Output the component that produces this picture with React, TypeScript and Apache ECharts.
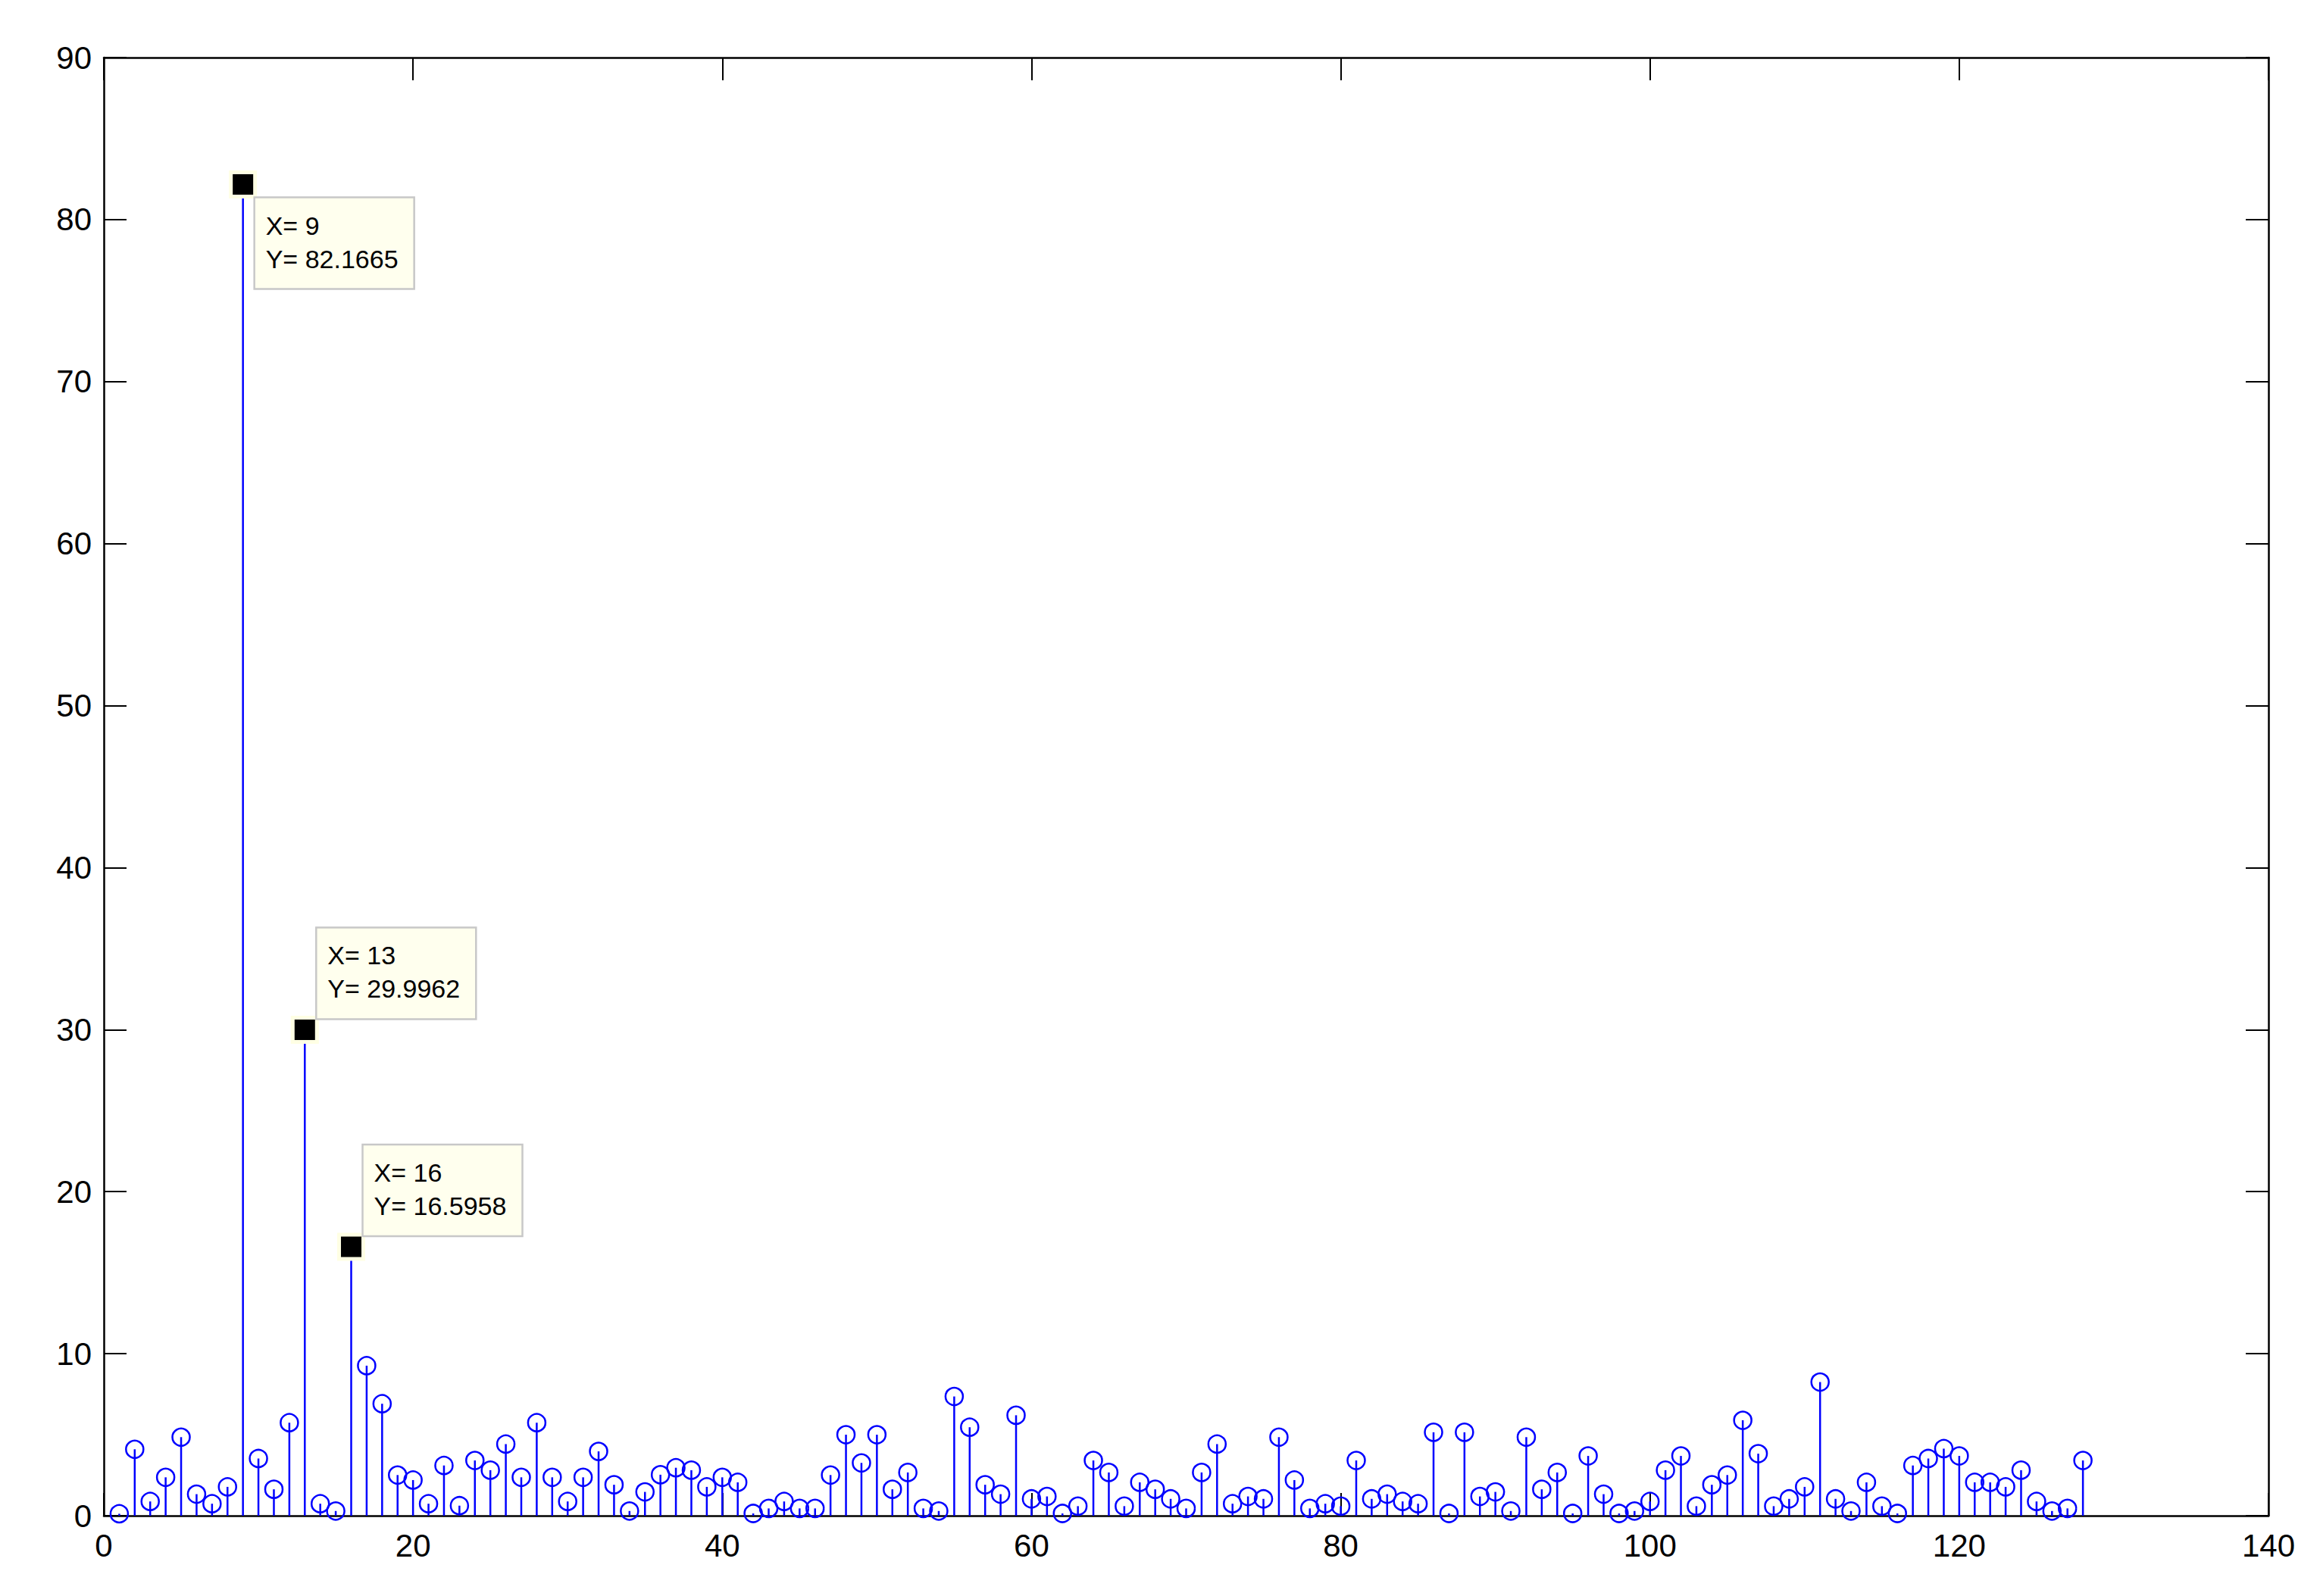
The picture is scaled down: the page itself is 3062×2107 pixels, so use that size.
import React, { useEffect, useRef } from "react";
import * as echarts from "echarts";

// Stem plot values for samples 1..128
const magnitudes: number[] = [
  0.12, 4.1, 0.88, 2.37, 4.85, 1.33, 0.74, 1.78, 82.1665, 3.53,
  1.63, 5.74, 29.9962, 0.74, 0.29, 16.5958, 9.26, 6.91, 2.51, 2.2,
  0.74, 3.1, 0.62, 3.41, 2.81, 4.42, 2.37, 5.74, 2.37, 0.88,
  2.37, 3.97, 1.91, 0.29, 1.47, 2.53, 2.96, 2.81, 1.78, 2.37,
  2.06, 0.14, 0.45, 0.88, 0.45, 0.45, 2.51, 5.0, 3.26, 5.0,
  1.63, 2.67, 0.45, 0.29, 7.36, 5.46, 1.91, 1.33, 6.2, 1.04,
  1.19, 0.14, 0.59, 3.41, 2.67, 0.59, 2.06, 1.63, 1.04, 0.45,
  2.67, 4.42, 0.74, 1.19, 1.04, 4.85, 2.2, 0.45, 0.74, 0.59,
  3.41, 1.04, 1.33, 0.88, 0.74, 5.15, 0.14, 5.15, 1.19, 1.47,
  0.29, 4.85, 1.63, 2.67, 0.14, 3.69, 1.33, 0.14, 0.29, 0.88,
  2.81, 3.69, 0.59, 1.91, 2.51, 5.89, 3.83, 0.59, 1.04, 1.78,
  8.25, 1.04, 0.29, 2.06, 0.59, 0.14, 3.1, 3.53, 4.14, 3.69,
  2.06, 2.06, 1.78, 2.81, 0.88, 0.29, 0.45, 3.41,
];

// Data tips (sample numbers)
const tipSamples: number[] = [9, 13, 16];

// Axis ranges
const xMin = 0;
const xMax = 140;
const xStep = 20;
const yMin = 0;
const yMax = 90;
const yStep = 10;

const STEM_BLUE = "#0000FF";
const LABEL_FONT = '"Liberation Sans Narrow", "Liberation Sans", Arial, sans-serif';
const TIP_FONT = '"Liberation Sans", Arial, sans-serif';

export default function App() {
  const ref = useRef<HTMLDivElement>(null);

  useEffect(() => {
    if (!ref.current) return;
    const chart = echarts.init(ref.current, null, { renderer: "svg" });

    const points = magnitudes.map((v, i) => [i + 1, v]);
    const tipPoints = tipSamples.map((n) => [n, magnitudes[n - 1]]);
    const tipBelow = [true, false, false];

    const axisLine = { show: true, onZero: false, lineStyle: { color: "#000", width: 2.5 } };
    const axisTick = { show: true, inside: true, length: 30, lineStyle: { color: "#000", width: 2 } };
    const labelStyle = { color: "#000", fontSize: 42, fontFamily: LABEL_FONT };

    chart.setOption({
      animation: false,
      backgroundColor: "#ffffff",
      grid: { left: 137, right: 68, top: 76, bottom: 106, containLabel: false },
      xAxis: [
        {
          type: "value", min: xMin, max: xMax, interval: xStep, position: "bottom",
          axisLine, axisTick, splitLine: { show: false },
          axisLabel: { show: true, margin: 18, ...labelStyle },
        },
        {
          type: "value", min: xMin, max: xMax, interval: xStep, position: "top",
          axisLine, axisTick, splitLine: { show: false }, axisLabel: { show: false },
        },
      ],
      yAxis: [
        {
          type: "value", min: yMin, max: yMax, interval: yStep, position: "left",
          axisLine, axisTick, splitLine: { show: false },
          axisLabel: { show: true, margin: 16, ...labelStyle },
        },
        {
          type: "value", min: yMin, max: yMax, interval: yStep, position: "right",
          axisLine, axisTick, splitLine: { show: false }, axisLabel: { show: false },
        },
      ],
      series: [
        {
          type: "custom",
          xAxisIndex: 0,
          yAxisIndex: 0,
          z: 3,
          data: points,
          renderItem: (_params: any, api: any) => {
            const x = api.value(0);
            const y = api.value(1);
            const p0 = api.coord([x, 0]);
            const p1 = api.coord([x, y]);
            return {
              type: "line",
              shape: { x1: p0[0], y1: p0[1], x2: p1[0], y2: p1[1] },
              style: { stroke: STEM_BLUE, lineWidth: 2.5 },
            };
          },
        },
        {
          type: "scatter",
          xAxisIndex: 0,
          yAxisIndex: 0,
          z: 4,
          clip: false,
          data: points,
          symbol: "circle",
          symbolSize: 23,
          itemStyle: { color: "rgba(0,0,0,0)", borderColor: STEM_BLUE, borderWidth: 2.5, opacity: 1 },
          emphasis: { disabled: true },
        },
        {
          type: "scatter",
          xAxisIndex: 0,
          yAxisIndex: 0,
          z: 5,
          clip: false,
          data: tipPoints,
          symbol: "rect",
          symbolSize: 32,
          itemStyle: { color: "#000000", borderColor: "#FFFFE4", borderWidth: 5, opacity: 1 },
          emphasis: { disabled: true },
        },
      ],
    });

    const boxW = 211;
    const boxH = 121;
    const graphics = tipPoints.map((p, k) => {
      const px = chart.convertToPixel({ gridIndex: 0 }, p) as number[];
      const left = px[0] + 15;
      const top = tipBelow[k] ? px[1] + 17 : px[1] - 14 - boxH;
      return {
        type: "group",
        x: left,
        y: top,
        z: 100,
        children: [
          {
            type: "rect",
            z: 100,
            shape: { x: 0, y: 0, width: boxW, height: boxH },
            style: { fill: "#FFFFEE", stroke: "#C8C8C8", lineWidth: 2.5 },
          },
          {
            type: "text",
            z: 101,
            x: 15,
            y: 37,
            style: {
              text: "X= " + String(p[0]),
              fontSize: 34,
              fontFamily: TIP_FONT,
              fill: "#000",
              verticalAlign: "middle",
              align: "left",
            },
          },
          {
            type: "text",
            z: 101,
            x: 15,
            y: 81,
            style: {
              text: "Y= " + String(p[1]),
              fontSize: 34,
              fontFamily: TIP_FONT,
              fill: "#000",
              verticalAlign: "middle",
              align: "left",
            },
          },
        ],
      };
    });
    chart.setOption({ graphic: graphics });

    return () => {
      chart.dispose();
    };
  }, []);

  return (
    <div
      ref={ref}
      style={{ position: "fixed", left: 0, top: 0, width: "3062px", height: "2107px", background: "#fff" }}
    />
  );
}
